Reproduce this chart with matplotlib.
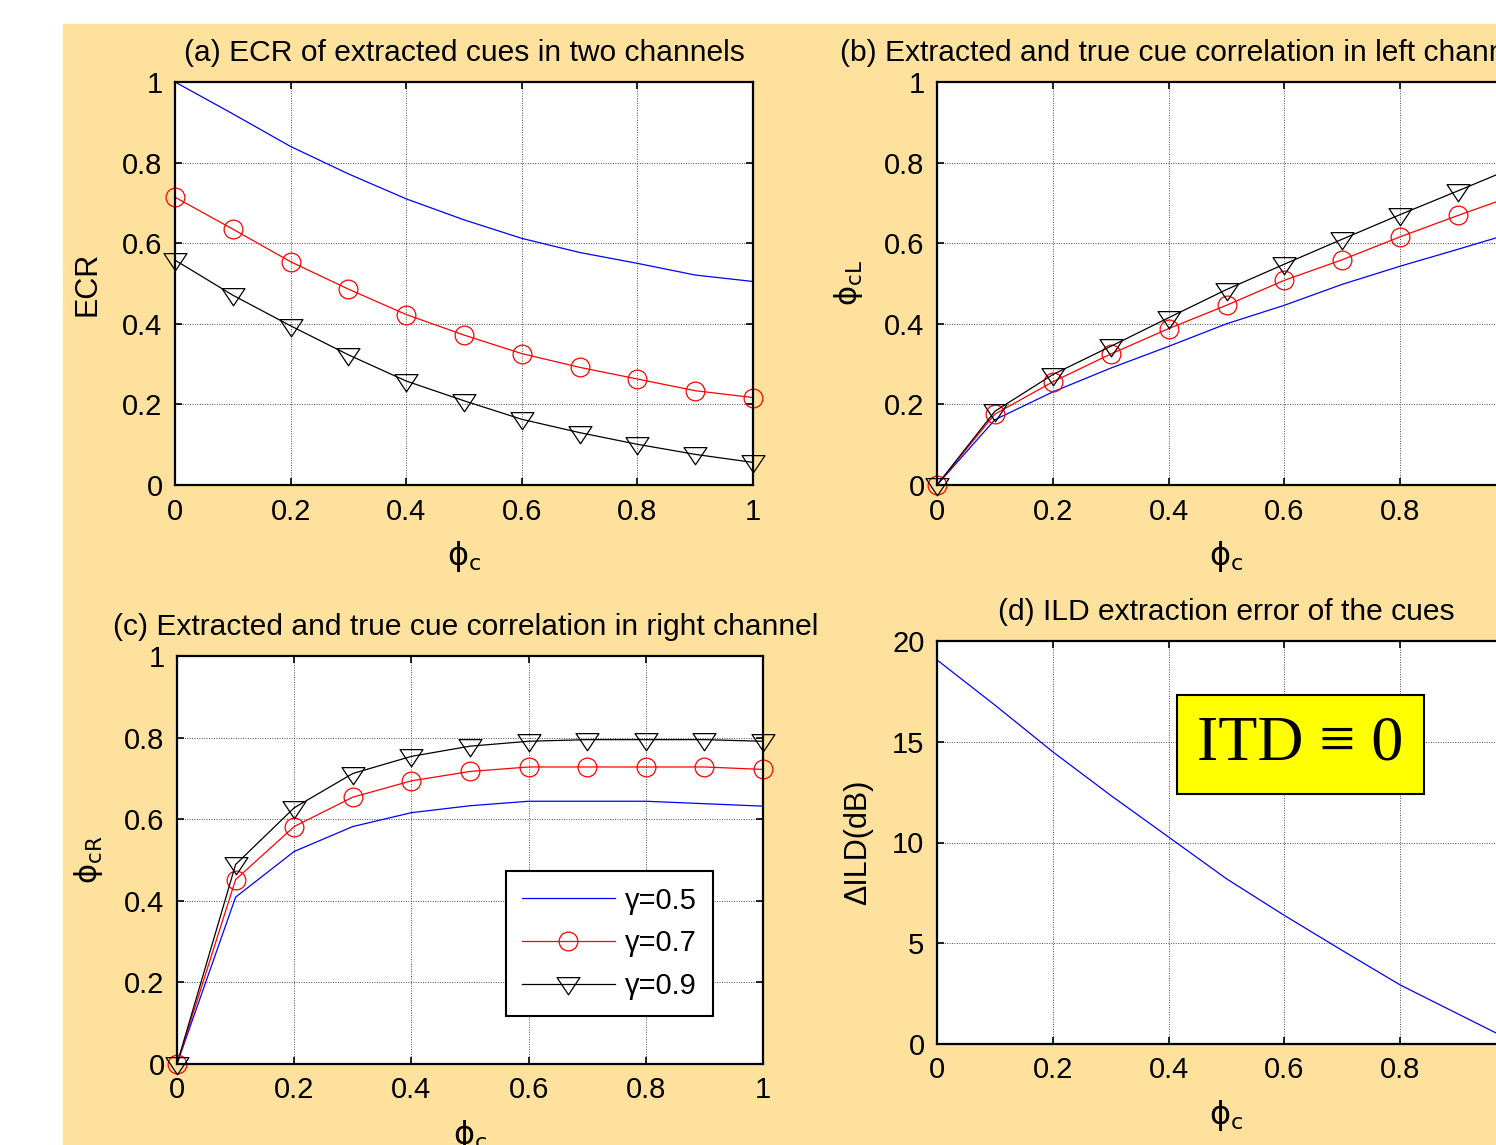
import matplotlib
matplotlib.use('Agg')
import matplotlib.pyplot as plt
from matplotlib.patches import Rectangle
from matplotlib.ticker import FormatStrFormatter
from matplotlib.path import Path

plt.rcParams['font.family'] = ['Liberation Sans', 'DejaVu Sans']
plt.rcParams['mathtext.fontset'] = 'dejavusans'

# data
phi_c = [0.0, 0.1, 0.2, 0.3, 0.4, 0.5, 0.6, 0.7, 0.8, 0.9, 1.0]
gammas = ['γ=0.5', 'γ=0.7', 'γ=0.9']

ecr_g05 = [1.000, 0.921, 0.840, 0.772, 0.710, 0.658, 0.612, 0.577, 0.550, 0.521, 0.505]
ecr_g07 = [0.714, 0.635, 0.554, 0.486, 0.423, 0.372, 0.326, 0.292, 0.263, 0.234, 0.217]
ecr_g09 = [0.558, 0.471, 0.395, 0.323, 0.258, 0.209, 0.163, 0.130, 0.101, 0.076, 0.056]

cl_g05 = [0.0, 0.162, 0.231, 0.290, 0.344, 0.400, 0.446, 0.498, 0.543, 0.585, 0.628]
cl_g07 = [0.0, 0.176, 0.256, 0.325, 0.388, 0.446, 0.508, 0.559, 0.616, 0.669, 0.720]
cl_g09 = [0.0, 0.183, 0.274, 0.344, 0.415, 0.485, 0.548, 0.610, 0.671, 0.730, 0.790]

cr_g05 = [0.0, 0.409, 0.521, 0.582, 0.616, 0.633, 0.644, 0.644, 0.644, 0.638, 0.632]
cr_g07 = [0.0, 0.452, 0.582, 0.654, 0.694, 0.717, 0.728, 0.728, 0.728, 0.728, 0.722]
cr_g09 = [0.0, 0.489, 0.628, 0.712, 0.754, 0.779, 0.791, 0.795, 0.795, 0.795, 0.791]

dild = [19.06, 16.82, 14.50, 12.34, 10.27, 8.20, 6.38, 4.64, 2.93, 1.49, 0.05]

bg = '#FEE19D'
tri = Path([(-1, 0.6), (1, 0.6), (0, -0.9), (-1, 0.6)],
           [Path.MOVETO, Path.LINETO, Path.LINETO, Path.CLOSEPOLY])

fig = plt.figure(figsize=(14.96, 11.45), dpi=100, facecolor='white')
fig.patches.append(Rectangle((63 / 1496, 0), 1, (1145 - 24) / 1145,
                             transform=fig.transFigure, color=bg, zorder=-10))


def style_axes(ax, ylim, yticks, title, xlabel, ylabel, title_x=None):
    ax.set_xlim(0, 1)
    ax.set_ylim(*ylim)
    ax.set_xticks([0, 0.2, 0.4, 0.6, 0.8, 1])
    ax.set_yticks(yticks)
    ax.xaxis.set_major_formatter(FormatStrFormatter('%g'))
    ax.yaxis.set_major_formatter(FormatStrFormatter('%g'))
    ax.tick_params(direction='in', length=5, width=1.2, top=True, right=True,
                   labelsize=21, pad=9)
    ax.grid(True, color='0.3', linestyle=(0, (1, 1.5)), linewidth=0.7)
    for s in ax.spines.values():
        s.set_linewidth(1.6)
    if title_x is None:
        ax.set_title(title, fontsize=21.6, pad=15)
    else:
        ax.set_title(title, fontsize=21.6, pad=15, loc='left', x=title_x)
    ax.set_xlabel(xlabel, fontsize=23, labelpad=10)
    ax.set_ylabel(ylabel, fontsize=22, labelpad=14)
    ax.set_facecolor('white')


def three_lines(ax, y5, y7, y9):
    ax.plot(phi_c, y5, color='#0000FF', lw=0.9, clip_on=False, label=gammas[0])
    ax.plot(phi_c, y7, color='#FF0000', lw=0.9, marker='o', ms=13.5, mfc='none',
            mew=0.9, clip_on=False, label=gammas[1])
    ax.plot(phi_c, y9, color='black', lw=0.9, marker=tri, ms=16.5, mfc='none',
            mew=0.9, clip_on=False, label=gammas[2])


phi_lab = r'$\mathrm{\phi}_{\mathrm{c}}$'

ax_a = fig.add_axes([175 / 1496, 1 - 485 / 1145, 578 / 1496, 403 / 1145])
three_lines(ax_a, ecr_g05, ecr_g07, ecr_g09)
style_axes(ax_a, (0, 1), [0, 0.2, 0.4, 0.6, 0.8, 1],
           '(a) ECR of extracted cues in two channels', phi_lab, 'ECR')

ax_b = fig.add_axes([937 / 1496, 1 - 485 / 1145, 579 / 1496, 403 / 1145])
three_lines(ax_b, cl_g05, cl_g07, cl_g09)
style_axes(ax_b, (0, 1), [0, 0.2, 0.4, 0.6, 0.8, 1],
           '(b) Extracted and true cue correlation in left channel', phi_lab,
           r'$\mathrm{\phi}_{\mathrm{cL}}$', title_x=-0.168)

ax_c = fig.add_axes([177 / 1496, 1 - 1064 / 1145, 586 / 1496, 408 / 1145])
three_lines(ax_c, cr_g05, cr_g07, cr_g09)
style_axes(ax_c, (0, 1), [0, 0.2, 0.4, 0.6, 0.8, 1],
           '(c) Extracted and true cue correlation in right channel', phi_lab,
           r'$\mathrm{\phi}_{\mathrm{cR}}$', title_x=-0.11)
leg = ax_c.legend(loc='lower left', bbox_to_anchor=(0.561, 0.118), fontsize=21,
                  fancybox=False, framealpha=1, edgecolor='black',
                  handlelength=3.2, handletextpad=0.35, borderpad=0.55,
                  labelspacing=0.5, borderaxespad=0)
leg.get_frame().set_linewidth(1.5)

ax_d = fig.add_axes([937 / 1496, 1 - 1044 / 1145, 579 / 1496, 403 / 1145])
ax_d.plot(phi_c, dild, color='#0000FF', lw=0.9)
style_axes(ax_d, (0, 20), [0, 5, 10, 15, 20],
           '(d) ILD extraction error of the cues', phi_lab, 'ΔILD(dB)')
ax_d.text(0.628, 14.85, 'ITD ≡ 0', family='Liberation Serif', fontsize=46,
          ha='center', va='center',
          bbox=dict(boxstyle='square,pad=0.32', facecolor='#FFFF00',
                    edgecolor='black', linewidth=1.5))

fig.savefig('out.png', dpi=100, facecolor=fig.get_facecolor())
